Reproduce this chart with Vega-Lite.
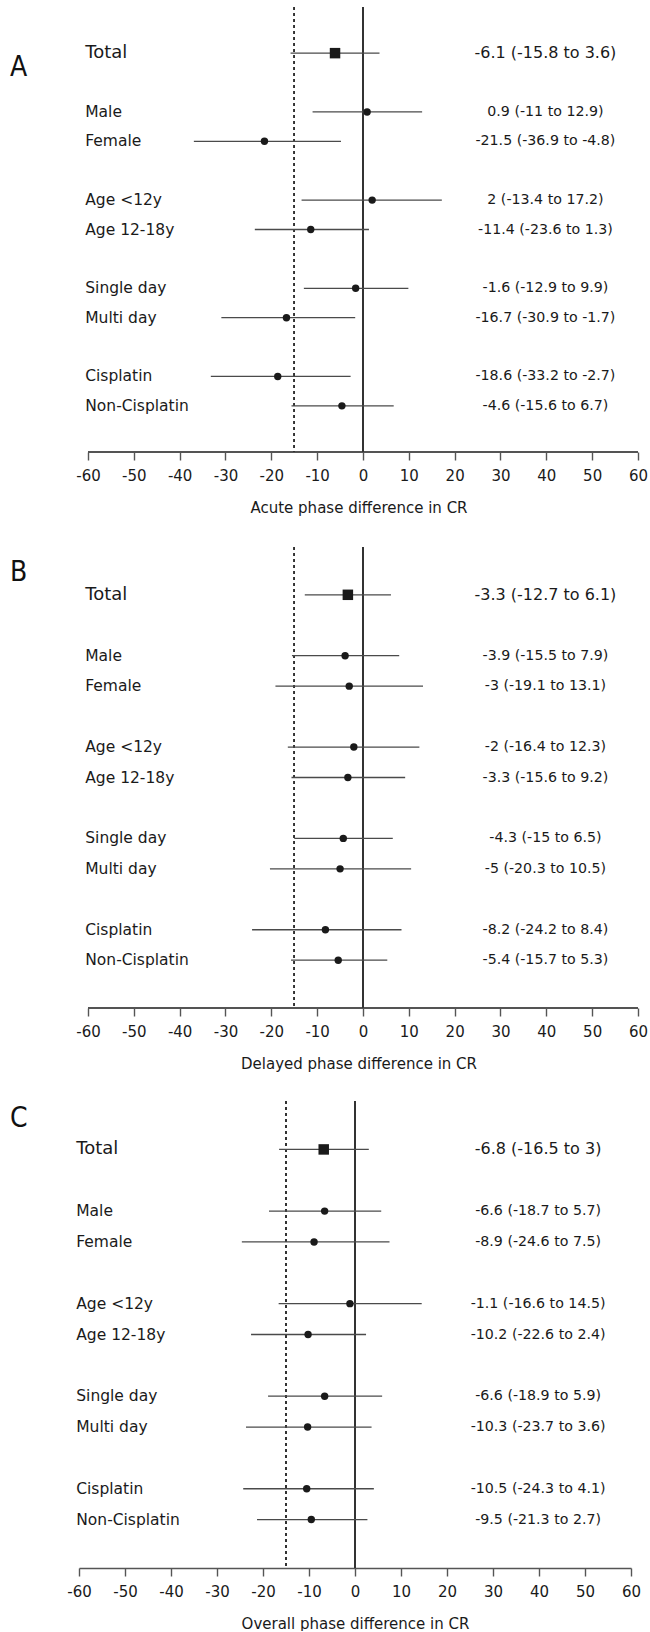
{
  "$schema": "https://vega.github.io/schema/vega-lite/v6.json",
  "padding": {"left": 10, "top": 6, "right": 0, "bottom": 0},
  "background": "white",
  "config": {
    "view": {"stroke": null},
    "font": "DejaVu Sans",
    "axis": {
      "domainColor": "#555555",
      "domainWidth": 1.4,
      "tickColor": "#555555",
      "tickWidth": 1.4,
      "tickSize": 8,
      "labelFont": "DejaVu Sans",
      "labelFontSize": 15,
      "labelColor": "#1a1a1a",
      "labelPadding": 8,
      "labelFlush": false,
      "labelOverlap": false,
      "titleFont": "DejaVu Sans",
      "titleFontSize": 15,
      "titleFontWeight": "normal",
      "titleColor": "#1a1a1a",
      "titlePadding": 17,
      "grid": false
    }
  },
  "datasets": {
    "rows": [
      {"panel": "A", "label": "Total", "pos": 0, "est": -6.1, "lo": -15.8, "hi": 3.6, "ci": "-6.1 (-15.8 to 3.6)"},
      {"panel": "A", "label": "Male", "pos": 2, "est": 0.9, "lo": -11, "hi": 12.9, "ci": "0.9 (-11 to 12.9)"},
      {"panel": "A", "label": "Female", "pos": 3, "est": -21.5, "lo": -36.9, "hi": -4.8, "ci": "-21.5 (-36.9 to -4.8)"},
      {"panel": "A", "label": "Age <12y", "pos": 5, "est": 2, "lo": -13.4, "hi": 17.2, "ci": "2 (-13.4 to 17.2)"},
      {"panel": "A", "label": "Age 12-18y", "pos": 6, "est": -11.4, "lo": -23.6, "hi": 1.3, "ci": "-11.4 (-23.6 to 1.3)"},
      {"panel": "A", "label": "Single day", "pos": 8, "est": -1.6, "lo": -12.9, "hi": 9.9, "ci": "-1.6 (-12.9 to 9.9)"},
      {"panel": "A", "label": "Multi day", "pos": 9, "est": -16.7, "lo": -30.9, "hi": -1.7, "ci": "-16.7 (-30.9 to -1.7)"},
      {"panel": "A", "label": "Cisplatin", "pos": 11, "est": -18.6, "lo": -33.2, "hi": -2.7, "ci": "-18.6 (-33.2 to -2.7)"},
      {"panel": "A", "label": "Non-Cisplatin", "pos": 12, "est": -4.6, "lo": -15.6, "hi": 6.7, "ci": "-4.6 (-15.6 to 6.7)"},
      {"panel": "B", "label": "Total", "pos": 0, "est": -3.3, "lo": -12.7, "hi": 6.1, "ci": "-3.3 (-12.7 to 6.1)"},
      {"panel": "B", "label": "Male", "pos": 2, "est": -3.9, "lo": -15.5, "hi": 7.9, "ci": "-3.9 (-15.5 to 7.9)"},
      {"panel": "B", "label": "Female", "pos": 3, "est": -3, "lo": -19.1, "hi": 13.1, "ci": "-3 (-19.1 to 13.1)"},
      {"panel": "B", "label": "Age <12y", "pos": 5, "est": -2, "lo": -16.4, "hi": 12.3, "ci": "-2 (-16.4 to 12.3)"},
      {"panel": "B", "label": "Age 12-18y", "pos": 6, "est": -3.3, "lo": -15.6, "hi": 9.2, "ci": "-3.3 (-15.6 to 9.2)"},
      {"panel": "B", "label": "Single day", "pos": 8, "est": -4.3, "lo": -15, "hi": 6.5, "ci": "-4.3 (-15 to 6.5)"},
      {"panel": "B", "label": "Multi day", "pos": 9, "est": -5, "lo": -20.3, "hi": 10.5, "ci": "-5 (-20.3 to 10.5)"},
      {"panel": "B", "label": "Cisplatin", "pos": 11, "est": -8.2, "lo": -24.2, "hi": 8.4, "ci": "-8.2 (-24.2 to 8.4)"},
      {"panel": "B", "label": "Non-Cisplatin", "pos": 12, "est": -5.4, "lo": -15.7, "hi": 5.3, "ci": "-5.4 (-15.7 to 5.3)"},
      {"panel": "C", "label": "Total", "pos": 0, "est": -6.8, "lo": -16.5, "hi": 3, "ci": "-6.8 (-16.5 to 3)"},
      {"panel": "C", "label": "Male", "pos": 2, "est": -6.6, "lo": -18.7, "hi": 5.7, "ci": "-6.6 (-18.7 to 5.7)"},
      {"panel": "C", "label": "Female", "pos": 3, "est": -8.9, "lo": -24.6, "hi": 7.5, "ci": "-8.9 (-24.6 to 7.5)"},
      {"panel": "C", "label": "Age <12y", "pos": 5, "est": -1.1, "lo": -16.6, "hi": 14.5, "ci": "-1.1 (-16.6 to 14.5)"},
      {"panel": "C", "label": "Age 12-18y", "pos": 6, "est": -10.2, "lo": -22.6, "hi": 2.4, "ci": "-10.2 (-22.6 to 2.4)"},
      {"panel": "C", "label": "Single day", "pos": 8, "est": -6.6, "lo": -18.9, "hi": 5.9, "ci": "-6.6 (-18.9 to 5.9)"},
      {"panel": "C", "label": "Multi day", "pos": 9, "est": -10.3, "lo": -23.7, "hi": 3.6, "ci": "-10.3 (-23.7 to 3.6)"},
      {"panel": "C", "label": "Cisplatin", "pos": 11, "est": -10.5, "lo": -24.3, "hi": 4.1, "ci": "-10.5 (-24.3 to 4.1)"},
      {"panel": "C", "label": "Non-Cisplatin", "pos": 12, "est": -9.5, "lo": -21.3, "hi": 2.7, "ci": "-9.5 (-21.3 to 2.7)"}
    ],
    "letters": [
      {"panel": "A", "letter": "A", "lx": -77.0, "ly": 0.5},
      {"panel": "B", "letter": "B", "lx": -77.0, "ly": -0.71},
      {"panel": "C", "letter": "C", "lx": -75.0, "ly": -1.0}
    ]
  },
  "columns": 1,
  "align": "none",
  "spacing": 31,
  "concat": [
    {
      "width": 559,
      "height": 445,
      "data": {"name": "rows"},
      "transform": [{"filter": "datum.panel === 'A'"}],
      "encoding": {
        "x": {"type": "quantitative", "scale": {"domain": [-61.96, 60], "nice": false, "zero": false},
          "axis": {"domain": false, "values": [-60, -50, -40, -30, -20, -10, 0, 10, 20, 30, 40, 50, 60], "labelExpr": "'' + datum.value", "title": "Acute phase difference in CR"}},
        "y": {"type": "quantitative", "scale": {"domain": [-1.57, 13.57], "reverse": true, "nice": false, "zero": false}, "axis": null}
      },
      "layer": [
        {"mark": {"type": "rule", "color": "#555555", "strokeWidth": 1.4}, "encoding": {"x": {"datum": -60}, "x2": {"datum": 60}, "y": {"datum": 13.57}}},
        {"mark": {"type": "rule", "color": "#333333", "strokeWidth": 1.2}, "encoding": {"x": {"datum": 0}, "y": null}},
        {"mark": {"type": "rule", "color": "#333333", "strokeWidth": 1, "strokeDash": [3, 3]}, "encoding": {"x": {"datum": -15}, "y": null}},
        {"mark": {"type": "rule", "color": "#4a4a4a", "strokeWidth": 1.3}, "encoding": {"x": {"field": "lo"}, "x2": {"field": "hi"}, "y": {"field": "pos"}}},
        {"mark": {"type": "point", "filled": true, "color": "#1a1a1a", "opacity": 1},
          "encoding": {"x": {"field": "est"}, "y": {"field": "pos"},
            "shape": {"condition": {"test": "datum.label === 'Total'", "value": "square"}, "value": "circle"},
            "size": {"condition": {"test": "datum.label === 'Total'", "value": 110}, "value": 55}}},
        {"mark": {"type": "text", "align": "left", "baseline": "middle", "color": "#1a1a1a", "font": "DejaVu Sans"},
          "encoding": {"x": {"datum": -60.6}, "y": {"field": "pos"}, "text": {"field": "label"},
            "size": {"condition": {"test": "datum.label === 'Total'", "value": 18}, "value": 15.5}}},
        {"mark": {"type": "text", "align": "center", "baseline": "middle", "color": "#1a1a1a", "font": "DejaVu Sans"},
          "encoding": {"x": {"datum": 39.8}, "y": {"field": "pos"}, "text": {"field": "ci"},
            "size": {"condition": {"test": "datum.label === 'Total'", "value": 16}, "value": 14.2}}},
        {"data": {"name": "letters"}, "transform": [{"filter": "datum.panel === 'A'"}],
          "mark": {"type": "text", "align": "left", "baseline": "middle", "fontSize": 28, "color": "#111111", "font": "Liberation Sans Narrow, DejaVu Sans Condensed, sans-serif"},
          "encoding": {"x": {"field": "lx"}, "y": {"field": "ly"}, "text": {"field": "letter"}}}
      ]
    },
    {
      "columns": 1,
      "align": "none",
      "spacing": 29,
      "concat": [
        {
          "width": 559,
          "height": 461,
          "data": {"name": "rows"},
          "transform": [{"filter": "datum.panel === 'B'"}],
          "encoding": {
            "x": {"type": "quantitative", "scale": {"domain": [-61.96, 60], "nice": false, "zero": false},
              "axis": {"domain": false, "values": [-60, -50, -40, -30, -20, -10, 0, 10, 20, 30, 40, 50, 60], "labelExpr": "'' + datum.value", "title": "Delayed phase difference in CR"}},
            "y": {"type": "quantitative", "scale": {"domain": [-1.57, 13.57], "reverse": true, "nice": false, "zero": false}, "axis": null}
          },
          "layer": [
            {"mark": {"type": "rule", "color": "#555555", "strokeWidth": 1.4}, "encoding": {"x": {"datum": -60}, "x2": {"datum": 60}, "y": {"datum": 13.57}}},
            {"mark": {"type": "rule", "color": "#333333", "strokeWidth": 1.2}, "encoding": {"x": {"datum": 0}, "y": null}},
            {"mark": {"type": "rule", "color": "#333333", "strokeWidth": 1, "strokeDash": [3, 3]}, "encoding": {"x": {"datum": -15}, "y": null}},
            {"mark": {"type": "rule", "color": "#4a4a4a", "strokeWidth": 1.3}, "encoding": {"x": {"field": "lo"}, "x2": {"field": "hi"}, "y": {"field": "pos"}}},
            {"mark": {"type": "point", "filled": true, "color": "#1a1a1a", "opacity": 1},
              "encoding": {"x": {"field": "est"}, "y": {"field": "pos"},
                "shape": {"condition": {"test": "datum.label === 'Total'", "value": "square"}, "value": "circle"},
                "size": {"condition": {"test": "datum.label === 'Total'", "value": 110}, "value": 55}}},
            {"mark": {"type": "text", "align": "left", "baseline": "middle", "color": "#1a1a1a", "font": "DejaVu Sans"},
              "encoding": {"x": {"datum": -60.6}, "y": {"field": "pos"}, "text": {"field": "label"},
                "size": {"condition": {"test": "datum.label === 'Total'", "value": 18}, "value": 15.5}}},
            {"mark": {"type": "text", "align": "center", "baseline": "middle", "color": "#1a1a1a", "font": "DejaVu Sans"},
              "encoding": {"x": {"datum": 39.8}, "y": {"field": "pos"}, "text": {"field": "ci"},
                "size": {"condition": {"test": "datum.label === 'Total'", "value": 16}, "value": 14.2}}},
            {"data": {"name": "letters"}, "transform": [{"filter": "datum.panel === 'B'"}],
              "mark": {"type": "text", "align": "left", "baseline": "middle", "fontSize": 28, "color": "#111111", "font": "Liberation Sans Narrow, DejaVu Sans Condensed, sans-serif"},
              "encoding": {"x": {"field": "lx"}, "y": {"field": "ly"}, "text": {"field": "letter"}}}
          ]
        },
        {
          "width": 552,
          "height": 467,
          "data": {"name": "rows"},
          "transform": [{"filter": "datum.panel === 'C'"}],
          "encoding": {
            "x": {"type": "quantitative", "scale": {"domain": [-60, 60], "nice": false, "zero": false},
              "axis": {"values": [-60, -50, -40, -30, -20, -10, 0, 10, 20, 30, 40, 50, 60], "labelExpr": "'' + datum.value", "title": "Overall phase difference in CR"}},
            "y": {"type": "quantitative", "scale": {"domain": [-1.57, 13.57], "reverse": true, "nice": false, "zero": false}, "axis": null}
          },
          "layer": [
            {"mark": {"type": "rule", "color": "#333333", "strokeWidth": 1.2}, "encoding": {"x": {"datum": 0}, "y": null}},
            {"mark": {"type": "rule", "color": "#333333", "strokeWidth": 1, "strokeDash": [3, 3]}, "encoding": {"x": {"datum": -15}, "y": null}},
            {"mark": {"type": "rule", "color": "#4a4a4a", "strokeWidth": 1.3}, "encoding": {"x": {"field": "lo"}, "x2": {"field": "hi"}, "y": {"field": "pos"}}},
            {"mark": {"type": "point", "filled": true, "color": "#1a1a1a", "opacity": 1},
              "encoding": {"x": {"field": "est"}, "y": {"field": "pos"},
                "shape": {"condition": {"test": "datum.label === 'Total'", "value": "square"}, "value": "circle"},
                "size": {"condition": {"test": "datum.label === 'Total'", "value": 110}, "value": 55}}},
            {"mark": {"type": "text", "align": "left", "baseline": "middle", "color": "#1a1a1a", "font": "DejaVu Sans"},
              "encoding": {"x": {"datum": -60.6}, "y": {"field": "pos"}, "text": {"field": "label"},
                "size": {"condition": {"test": "datum.label === 'Total'", "value": 18}, "value": 15.5}}},
            {"mark": {"type": "text", "align": "center", "baseline": "middle", "color": "#1a1a1a", "font": "DejaVu Sans"},
              "encoding": {"x": {"datum": 39.8}, "y": {"field": "pos"}, "text": {"field": "ci"},
                "size": {"condition": {"test": "datum.label === 'Total'", "value": 16}, "value": 14.2}}},
            {"data": {"name": "letters"}, "transform": [{"filter": "datum.panel === 'C'"}],
              "mark": {"type": "text", "align": "left", "baseline": "middle", "fontSize": 28, "color": "#111111", "font": "Liberation Sans Narrow, DejaVu Sans Condensed, sans-serif"},
              "encoding": {"x": {"field": "lx"}, "y": {"field": "ly"}, "text": {"field": "letter"}}}
          ]
        }
      ]
    }
  ]
}
